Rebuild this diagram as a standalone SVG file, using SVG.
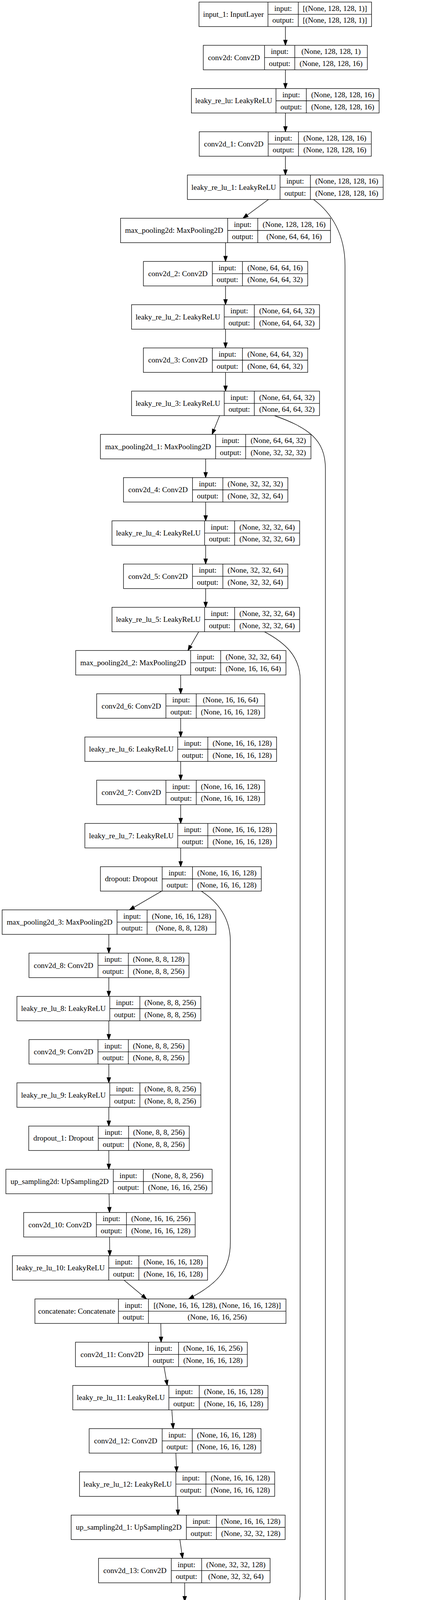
<svg xmlns="http://www.w3.org/2000/svg" width="1079" height="6824" viewBox="0 0 1079 6824">
<style>
.b{fill:#fff;stroke:#000;stroke-width:1.33}
.l{fill:none;stroke:#000;stroke-width:1.33}
.e{fill:none;stroke:#000;stroke-width:1.33;marker-end:url(#ah)}
text{font-family:"Liberation Serif","Times New Roman",serif;font-size:19.4px;text-anchor:middle;fill:#000}
</style>
<defs>
<marker id="ah" markerUnits="userSpaceOnUse" markerWidth="18" markerHeight="14" viewBox="-2 -7 18 14" refX="13.33" refY="0" orient="auto" overflow="visible">
<path d="M0,-4.67 L13.33,0 L0,4.67 Z" fill="#000" stroke="#000" stroke-width="1.33"/>
</marker>
</defs>
<rect x="0" y="0" width="1079" height="6824" fill="#fff"/>
<g id="edges">
<path class="e" d="M731.5 68 L731.5 116"/>
<path class="e" d="M731.5 178.67 L731.5 226.67"/>
<path class="e" d="M731.5 289.33 L731.5 337.33"/>
<path class="e" d="M731.5 400 L731.5 448"/>
<path class="e" d="M688 510.67 L622.8 558.67"/>
<path class="e" d="M578 621.33 L578 669.33"/>
<path class="e" d="M578 732 L578 780"/>
<path class="e" d="M578 842.67 L578 890.67"/>
<path class="e" d="M578 953.33 L578 1001.33"/>
<path class="e" d="M562.9 1064 L543.6 1112"/>
<path class="e" d="M527.1 1174.67 L527.1 1222.67"/>
<path class="e" d="M527.1 1285.33 L527.1 1333.33"/>
<path class="e" d="M527.1 1396 L527.1 1444"/>
<path class="e" d="M527.1 1506.67 L527.1 1554.67"/>
<path class="e" d="M509.2 1617.33 L481.7 1665.33"/>
<path class="e" d="M463.1 1728 L463.1 1776"/>
<path class="e" d="M463.1 1838.67 L463.1 1886.67"/>
<path class="e" d="M463.1 1949.33 L463.1 1997.33"/>
<path class="e" d="M463.1 2060 L463.1 2108"/>
<path class="e" d="M463.1 2170.67 L463.1 2218.67"/>
<path class="e" d="M414.3 2281.33 L331.7 2329.33"/>
<path class="e" d="M278.9 2392 L278.9 2440"/>
<path class="e" d="M278.9 2502.67 L278.9 2550.67"/>
<path class="e" d="M278.9 2613.33 L278.9 2661.33"/>
<path class="e" d="M278.9 2724 L278.9 2772"/>
<path class="e" d="M278.9 2834.67 L278.9 2882.67"/>
<path class="e" d="M278.9 2945.33 L278.9 2993.33"/>
<path class="e" d="M279.4 3056 L280.7 3104"/>
<path class="e" d="M280.7 3166.67 L281.4 3214.67"/>
<path class="e" d="M317.9 3277.33 L375.5 3325.33"/>
<path class="e" d="M412.2 3388 L412.9 3436"/>
<path class="e" d="M420.4 3498.67 L428.7 3546.67"/>
<path class="e" d="M440.4 3609.33 L443.8 3657.33"/>
<path class="e" d="M450.7 3720 L452.8 3768"/>
<path class="e" d="M454.9 3830.67 L456.2 3878.67"/>
<path class="e" d="M461 3941.33 L468 3989.33"/>
<path class="e" d="M473.4 4052 L473.4 4100"/>
<path class="e" d="M474.1 4162.67 L474.8 4210.67"/>
<path class="e" d="M475.5 4273.33 L475.5 4321.33"/>
<path class="e" d="M484.4 4384 L492.7 4432"/>
<path class="e" d="M505.8 4494.67 L509.2 4542.67"/>
<path class="e" d="M515.4 4605.33 L518.2 4653.33"/>
<path class="e" d="M521.6 4716 L522.3 4764"/>
<path class="e" d="M524.4 4826.67 L525 4874.67"/>
<path class="e" d="M525 4937.33 L525.7 4985.33"/>
<path class="e" d="M526.4 5048 L526.4 5096"/>
<path class="e" d="M526.8 5158.67 L526.8 5206.67"/>
<path class="e" d="M534 5269.33 L543 5317.33"/>
<path class="e" d="M552.6 5380 L556 5428"/>
<path class="e" d="M561.5 5490.67 L562.9 5538.67"/>
<path class="e" d="M565.6 5601.33 L566.3 5649.33"/>
<path class="e" d="M569.8 5712 L571.8 5760"/>
<path class="e" d="M579.4 5822.67 L582.9 5870.67"/>
<path class="e" d="M627.6 5933.33 L691.6 5981.33"/>
<path class="e" d="M732.9 6044 L732.9 6092"/>
<path class="e" d="M732.9 6154.67 L732.9 6202.67"/>
<path class="e" d="M732.9 6265.33 L732.9 6313.33"/>
<path class="e" d="M732.9 6376 L732.9 6424"/>
<path class="e" d="M732.9 6486.67 L732.9 6534.67"/>
<path class="e" d="M732.9 6597.33 L732.9 6645.33"/>
<path class="e" d="M732.9 6708 L732.9 6756"/>
<path class="e" d="M803.7 510.67 C850 545 884.3 600 884.3 680 L884.3 5840 C884.3 5905 852 5948 799.6 5981.33"/>
<path class="e" d="M703.3 1064 C790 1095 834 1125 834 1200 L834 4930 C834 5010 790 5050 664 5096"/>
<path class="e" d="M677.8 1617.33 C730 1645 769.3 1680 769.3 1740 L769.3 4075 C769.3 4140 730 4175 615.9 4210.67"/>
<path class="e" d="M516 2281.33 C560 2310 590.4 2350 590.4 2410 L590.4 3180 C590.4 3250 560 3285 483.5 3325.33"/>
</g>
<g id="input_1" transform="translate(0,5.33)"><rect class="b" x="510" width="442.3" height="62.67"/><path class="l" d="M686.7 0V62.67M764.5 0V62.67M686.7 31.33H952.3"/><text x="598.35" y="37.6">input_1: InputLayer</text><text x="725.6" y="22.3">input:</text><text x="725.6" y="53">output:</text><text x="858.4" y="22.3">[(None, 128, 128, 1)]</text><text x="858.4" y="53">[(None, 128, 128, 1)]</text></g>
<g id="conv2d" transform="translate(0,116)"><rect class="b" x="521" width="420.5" height="62.67"/><path class="l" d="M678 0V62.67M755.5 0V62.67M678 31.33H941.5"/><text x="599.5" y="37.6">conv2d: Conv2D</text><text x="716.75" y="22.3">input:</text><text x="716.75" y="53">output:</text><text x="848.5" y="22.3">(None, 128, 128, 1)</text><text x="848.5" y="53">(None, 128, 128, 16)</text></g>
<g id="leaky_re_lu" transform="translate(0,226.67)"><rect class="b" x="490.6" width="481" height="62.67"/><path class="l" d="M707.4 0V62.67M785.1 0V62.67M707.4 31.33H971.6"/><text x="599" y="37.6">leaky_re_lu: LeakyReLU</text><text x="746.25" y="22.3">input:</text><text x="746.25" y="53">output:</text><text x="878.35" y="22.3">(None, 128, 128, 16)</text><text x="878.35" y="53">(None, 128, 128, 16)</text></g>
<g id="conv2d_1" transform="translate(0,337.33)"><rect class="b" x="510.6" width="441" height="62.67"/><path class="l" d="M687.4 0V62.67M765 0V62.67M687.4 31.33H951.6"/><text x="599" y="37.6">conv2d_1: Conv2D</text><text x="726.2" y="22.3">input:</text><text x="726.2" y="53">output:</text><text x="858.3" y="22.3">(None, 128, 128, 16)</text><text x="858.3" y="53">(None, 128, 128, 16)</text></g>
<g id="leaky_re_lu_1" transform="translate(0,448)"><rect class="b" x="480.3" width="501.7" height="62.67"/><path class="l" d="M717.7 0V62.67M795.5 0V62.67M717.7 31.33H982"/><text x="599" y="37.6">leaky_re_lu_1: LeakyReLU</text><text x="756.6" y="22.3">input:</text><text x="756.6" y="53">output:</text><text x="888.75" y="22.3">(None, 128, 128, 16)</text><text x="888.75" y="53">(None, 128, 128, 16)</text></g>
<g id="max_pooling2d" transform="translate(0,558.67)"><rect class="b" x="309" width="538" height="62.67"/><path class="l" d="M583.5 0V62.67M660.6 0V62.67M583.5 31.33H847"/><text x="446.25" y="37.6">max_pooling2d: MaxPooling2D</text><text x="622.05" y="22.3">input:</text><text x="622.05" y="53">output:</text><text x="753.8" y="22.3">(None, 128, 128, 16)</text><text x="753.8" y="53">(None, 64, 64, 16)</text></g>
<g id="conv2d_2" transform="translate(0,669.33)"><rect class="b" x="367.5" width="421.1" height="62.67"/><path class="l" d="M544.3 0V62.67M621.4 0V62.67M544.3 31.33H788.6"/><text x="455.9" y="37.6">conv2d_2: Conv2D</text><text x="582.85" y="22.3">input:</text><text x="582.85" y="53">output:</text><text x="705" y="22.3">(None, 64, 64, 16)</text><text x="705" y="53">(None, 64, 64, 32)</text></g>
<g id="leaky_re_lu_2" transform="translate(0,780)"><rect class="b" x="337.2" width="481.7" height="62.67"/><path class="l" d="M574.6 0V62.67M651.7 0V62.67M574.6 31.33H818.9"/><text x="455.9" y="37.6">leaky_re_lu_2: LeakyReLU</text><text x="613.15" y="22.3">input:</text><text x="613.15" y="53">output:</text><text x="735.3" y="22.3">(None, 64, 64, 32)</text><text x="735.3" y="53">(None, 64, 64, 32)</text></g>
<g id="conv2d_3" transform="translate(0,890.67)"><rect class="b" x="367.5" width="421.1" height="62.67"/><path class="l" d="M544.3 0V62.67M621.4 0V62.67M544.3 31.33H788.6"/><text x="455.9" y="37.6">conv2d_3: Conv2D</text><text x="582.85" y="22.3">input:</text><text x="582.85" y="53">output:</text><text x="705" y="22.3">(None, 64, 64, 32)</text><text x="705" y="53">(None, 64, 64, 32)</text></g>
<g id="leaky_re_lu_3" transform="translate(0,1001.33)"><rect class="b" x="337.2" width="481.7" height="62.67"/><path class="l" d="M574.6 0V62.67M651.7 0V62.67M574.6 31.33H818.9"/><text x="455.9" y="37.6">leaky_re_lu_3: LeakyReLU</text><text x="613.15" y="22.3">input:</text><text x="613.15" y="53">output:</text><text x="735.3" y="22.3">(None, 64, 64, 32)</text><text x="735.3" y="53">(None, 64, 64, 32)</text></g>
<g id="max_pooling2d_1" transform="translate(0,1112)"><rect class="b" x="257.4" width="539.5" height="62.67"/><path class="l" d="M552.6 0V62.67M629.6 0V62.67M552.6 31.33H796.9"/><text x="405" y="37.6">max_pooling2d_1: MaxPooling2D</text><text x="591.1" y="22.3">input:</text><text x="591.1" y="53">output:</text><text x="713.25" y="22.3">(None, 64, 64, 32)</text><text x="713.25" y="53">(None, 32, 32, 32)</text></g>
<g id="conv2d_4" transform="translate(0,1222.67)"><rect class="b" x="316.5" width="421.2" height="62.67"/><path class="l" d="M493.4 0V62.67M571.2 0V62.67M493.4 31.33H737.7"/><text x="404.95" y="37.6">conv2d_4: Conv2D</text><text x="532.3" y="22.3">input:</text><text x="532.3" y="53">output:</text><text x="654.45" y="22.3">(None, 32, 32, 32)</text><text x="654.45" y="53">(None, 32, 32, 64)</text></g>
<g id="leaky_re_lu_4" transform="translate(0,1333.33)"><rect class="b" x="287" width="481" height="62.67"/><path class="l" d="M524.4 0V62.67M601.4 0V62.67M524.4 31.33H768"/><text x="405.7" y="37.6">leaky_re_lu_4: LeakyReLU</text><text x="562.9" y="22.3">input:</text><text x="562.9" y="53">output:</text><text x="684.7" y="22.3">(None, 32, 32, 64)</text><text x="684.7" y="53">(None, 32, 32, 64)</text></g>
<g id="conv2d_5" transform="translate(0,1444)"><rect class="b" x="316.5" width="421.2" height="62.67"/><path class="l" d="M493.4 0V62.67M571.2 0V62.67M493.4 31.33H737.7"/><text x="404.95" y="37.6">conv2d_5: Conv2D</text><text x="532.3" y="22.3">input:</text><text x="532.3" y="53">output:</text><text x="654.45" y="22.3">(None, 32, 32, 64)</text><text x="654.45" y="53">(None, 32, 32, 64)</text></g>
<g id="leaky_re_lu_5" transform="translate(0,1554.67)"><rect class="b" x="287" width="481" height="62.67"/><path class="l" d="M524.4 0V62.67M601.4 0V62.67M524.4 31.33H768"/><text x="405.7" y="37.6">leaky_re_lu_5: LeakyReLU</text><text x="562.9" y="22.3">input:</text><text x="562.9" y="53">output:</text><text x="684.7" y="22.3">(None, 32, 32, 64)</text><text x="684.7" y="53">(None, 32, 32, 64)</text></g>
<g id="max_pooling2d_2" transform="translate(0,1665.33)"><rect class="b" x="194" width="538.9" height="62.67"/><path class="l" d="M488.6 0V62.67M565.6 0V62.67M488.6 31.33H732.9"/><text x="341.3" y="37.6">max_pooling2d_2: MaxPooling2D</text><text x="527.1" y="22.3">input:</text><text x="527.1" y="53">output:</text><text x="649.25" y="22.3">(None, 32, 32, 64)</text><text x="649.25" y="53">(None, 16, 16, 64)</text></g>
<g id="conv2d_6" transform="translate(0,1776)"><rect class="b" x="247.7" width="430.8" height="62.67"/><path class="l" d="M425.3 0V62.67M503 0V62.67M425.3 31.33H678.5"/><text x="336.5" y="37.6">conv2d_6: Conv2D</text><text x="464.15" y="22.3">input:</text><text x="464.15" y="53">output:</text><text x="590.75" y="22.3">(None, 16, 16, 64)</text><text x="590.75" y="53">(None, 16, 16, 128)</text></g>
<g id="leaky_re_lu_6" transform="translate(0,1886.67)"><rect class="b" x="217.5" width="491.3" height="62.67"/><path class="l" d="M455.5 0V62.67M532.6 0V62.67M455.5 31.33H708.8"/><text x="336.5" y="37.6">leaky_re_lu_6: LeakyReLU</text><text x="494.05" y="22.3">input:</text><text x="494.05" y="53">output:</text><text x="620.7" y="22.3">(None, 16, 16, 128)</text><text x="620.7" y="53">(None, 16, 16, 128)</text></g>
<g id="conv2d_7" transform="translate(0,1997.33)"><rect class="b" x="247.7" width="430.8" height="62.67"/><path class="l" d="M425.3 0V62.67M503 0V62.67M425.3 31.33H678.5"/><text x="336.5" y="37.6">conv2d_7: Conv2D</text><text x="464.15" y="22.3">input:</text><text x="464.15" y="53">output:</text><text x="590.75" y="22.3">(None, 16, 16, 128)</text><text x="590.75" y="53">(None, 16, 16, 128)</text></g>
<g id="leaky_re_lu_7" transform="translate(0,2108)"><rect class="b" x="217.5" width="491.3" height="62.67"/><path class="l" d="M455.5 0V62.67M532.6 0V62.67M455.5 31.33H708.8"/><text x="336.5" y="37.6">leaky_re_lu_7: LeakyReLU</text><text x="494.05" y="22.3">input:</text><text x="494.05" y="53">output:</text><text x="620.7" y="22.3">(None, 16, 16, 128)</text><text x="620.7" y="53">(None, 16, 16, 128)</text></g>
<g id="dropout" transform="translate(0,2218.67)"><rect class="b" x="257.4" width="412.2" height="62.67"/><path class="l" d="M415.6 0V62.67M493.4 0V62.67M415.6 31.33H669.6"/><text x="336.5" y="37.6">dropout: Dropout</text><text x="454.5" y="22.3">input:</text><text x="454.5" y="53">output:</text><text x="581.5" y="22.3">(None, 16, 16, 128)</text><text x="581.5" y="53">(None, 16, 16, 128)</text></g>
<g id="max_pooling2d_3" transform="translate(0,2329.33)"><rect class="b" x="5.5" width="547.8" height="62.67"/><path class="l" d="M300 0V62.67M377.1 0V62.67M300 31.33H553.3"/><text x="152.75" y="37.6">max_pooling2d_3: MaxPooling2D</text><text x="338.55" y="22.3">input:</text><text x="338.55" y="53">output:</text><text x="465.2" y="22.3">(None, 16, 16, 128)</text><text x="465.2" y="53">(None, 8, 8, 128)</text></g>
<g id="conv2d_8" transform="translate(0,2440)"><rect class="b" x="74.3" width="410.1" height="62.67"/><path class="l" d="M251.2 0V62.67M328.9 0V62.67M251.2 31.33H484.4"/><text x="162.75" y="37.6">conv2d_8: Conv2D</text><text x="290.05" y="22.3">input:</text><text x="290.05" y="53">output:</text><text x="406.65" y="22.3">(None, 8, 8, 128)</text><text x="406.65" y="53">(None, 8, 8, 256)</text></g>
<g id="leaky_re_lu_8" transform="translate(0,2550.67)"><rect class="b" x="43.4" width="471.3" height="62.67"/><path class="l" d="M281.4 0V62.67M358.5 0V62.67M281.4 31.33H514.7"/><text x="162.4" y="37.6">leaky_re_lu_8: LeakyReLU</text><text x="319.95" y="22.3">input:</text><text x="319.95" y="53">output:</text><text x="436.6" y="22.3">(None, 8, 8, 256)</text><text x="436.6" y="53">(None, 8, 8, 256)</text></g>
<g id="conv2d_9" transform="translate(0,2661.33)"><rect class="b" x="74.3" width="410.1" height="62.67"/><path class="l" d="M251.2 0V62.67M328.9 0V62.67M251.2 31.33H484.4"/><text x="162.75" y="37.6">conv2d_9: Conv2D</text><text x="290.05" y="22.3">input:</text><text x="290.05" y="53">output:</text><text x="406.65" y="22.3">(None, 8, 8, 256)</text><text x="406.65" y="53">(None, 8, 8, 256)</text></g>
<g id="leaky_re_lu_9" transform="translate(0,2772)"><rect class="b" x="43.4" width="471.3" height="62.67"/><path class="l" d="M281.4 0V62.67M358.5 0V62.67M281.4 31.33H514.7"/><text x="162.4" y="37.6">leaky_re_lu_9: LeakyReLU</text><text x="319.95" y="22.3">input:</text><text x="319.95" y="53">output:</text><text x="436.6" y="22.3">(None, 8, 8, 256)</text><text x="436.6" y="53">(None, 8, 8, 256)</text></g>
<g id="dropout_1" transform="translate(0,2882.67)"><rect class="b" x="73.6" width="411.5" height="62.67"/><path class="l" d="M251.9 0V62.67M329.6 0V62.67M251.9 31.33H485.1"/><text x="162.75" y="37.6">dropout_1: Dropout</text><text x="290.75" y="22.3">input:</text><text x="290.75" y="53">output:</text><text x="407.35" y="22.3">(None, 8, 8, 256)</text><text x="407.35" y="53">(None, 8, 8, 256)</text></g>
<g id="up_sampling2d" transform="translate(0,2993.33)"><rect class="b" x="15.1" width="528.5" height="62.67"/><path class="l" d="M290.4 0V62.67M367.5 0V62.67M290.4 31.33H543.6"/><text x="152.75" y="37.6">up_sampling2d: UpSampling2D</text><text x="328.95" y="22.3">input:</text><text x="328.95" y="53">output:</text><text x="455.55" y="22.3">(None, 8, 8, 256)</text><text x="455.55" y="53">(None, 16, 16, 256)</text></g>
<g id="conv2d_10" transform="translate(0,3104)"><rect class="b" x="60.6" width="439.7" height="62.67"/><path class="l" d="M247 0V62.67M324.1 0V62.67M247 31.33H500.3"/><text x="153.8" y="37.6">conv2d_10: Conv2D</text><text x="285.55" y="22.3">input:</text><text x="285.55" y="53">output:</text><text x="412.2" y="22.3">(None, 16, 16, 256)</text><text x="412.2" y="53">(None, 16, 16, 128)</text></g>
<g id="leaky_re_lu_10" transform="translate(0,3214.67)"><rect class="b" x="31.7" width="500.2" height="62.67"/><path class="l" d="M278.7 0V62.67M355.8 0V62.67M278.7 31.33H531.9"/><text x="155.2" y="37.6">leaky_re_lu_10: LeakyReLU</text><text x="317.25" y="22.3">input:</text><text x="317.25" y="53">output:</text><text x="443.85" y="22.3">(None, 16, 16, 128)</text><text x="443.85" y="53">(None, 16, 16, 128)</text></g>
<g id="concatenate" transform="translate(0,3325.33)"><rect class="b" x="89.5" width="643.4" height="62.67"/><path class="l" d="M303.5 0V62.67M380.5 0V62.67M303.5 31.33H732.9"/><text x="196.5" y="37.6">concatenate: Concatenate</text><text x="342" y="22.3">input:</text><text x="342" y="53">output:</text><text x="556.7" y="22.3">[(None, 16, 16, 128), (None, 16, 16, 128)]</text><text x="556.7" y="53">(None, 16, 16, 256)</text></g>
<g id="conv2d_11" transform="translate(0,3436)"><rect class="b" x="193.4" width="440.4" height="62.67"/><path class="l" d="M380.5 0V62.67M457.6 0V62.67M380.5 31.33H633.8"/><text x="286.95" y="37.6">conv2d_11: Conv2D</text><text x="419.05" y="22.3">input:</text><text x="419.05" y="53">output:</text><text x="545.7" y="22.3">(None, 16, 16, 256)</text><text x="545.7" y="53">(None, 16, 16, 128)</text></g>
<g id="leaky_re_lu_11" transform="translate(0,3546.67)"><rect class="b" x="186.5" width="500.3" height="62.67"/><path class="l" d="M432.8 0V62.67M510.6 0V62.67M432.8 31.33H686.8"/><text x="309.65" y="37.6">leaky_re_lu_11: LeakyReLU</text><text x="471.7" y="22.3">input:</text><text x="471.7" y="53">output:</text><text x="598.7" y="22.3">(None, 16, 16, 128)</text><text x="598.7" y="53">(None, 16, 16, 128)</text></g>
<g id="conv2d_12" transform="translate(0,3657.33)"><rect class="b" x="228.5" width="440.4" height="62.67"/><path class="l" d="M415.6 0V62.67M492.7 0V62.67M415.6 31.33H668.9"/><text x="322.05" y="37.6">conv2d_12: Conv2D</text><text x="454.15" y="22.3">input:</text><text x="454.15" y="53">output:</text><text x="580.8" y="22.3">(None, 16, 16, 128)</text><text x="580.8" y="53">(None, 16, 16, 128)</text></g>
<g id="leaky_re_lu_12" transform="translate(0,3768)"><rect class="b" x="203.7" width="500.3" height="62.67"/><path class="l" d="M450.7 0V62.67M527.8 0V62.67M450.7 31.33H704"/><text x="327.2" y="37.6">leaky_re_lu_12: LeakyReLU</text><text x="489.25" y="22.3">input:</text><text x="489.25" y="53">output:</text><text x="615.9" y="22.3">(None, 16, 16, 128)</text><text x="615.9" y="53">(None, 16, 16, 128)</text></g>
<g id="up_sampling2d_1" transform="translate(0,3878.67)"><rect class="b" x="182.4" width="548.4" height="62.67"/><path class="l" d="M477.6 0V62.67M554.6 0V62.67M477.6 31.33H730.8"/><text x="330" y="37.6">up_sampling2d_1: UpSampling2D</text><text x="516.1" y="22.3">input:</text><text x="516.1" y="53">output:</text><text x="642.7" y="22.3">(None, 16, 16, 128)</text><text x="642.7" y="53">(None, 32, 32, 128)</text></g>
<g id="conv2d_13" transform="translate(0,3989.33)"><rect class="b" x="252.5" width="439.8" height="62.67"/><path class="l" d="M439 0V62.67M516.8 0V62.67M439 31.33H692.3"/><text x="345.75" y="37.6">conv2d_13: Conv2D</text><text x="477.9" y="22.3">input:</text><text x="477.9" y="53">output:</text><text x="604.55" y="22.3">(None, 32, 32, 128)</text><text x="604.55" y="53">(None, 32, 32, 64)</text></g>
<g id="leaky_re_lu_13" transform="translate(0,4100)"><rect class="b" x="228.5" width="490.6" height="62.67"/><path class="l" d="M475.5 0V62.67M552.6 0V62.67M475.5 31.33H719.1"/><text x="352" y="37.6">leaky_re_lu_13: LeakyReLU</text><text x="514.05" y="22.3">input:</text><text x="514.05" y="53">output:</text><text x="635.85" y="22.3">(None, 32, 32, 64)</text><text x="635.85" y="53">(None, 32, 32, 64)</text></g>
<g id="concatenate_1" transform="translate(0,4210.67)"><rect class="b" x="153.5" width="643.4" height="62.67"/><path class="l" d="M387.4 0V62.67M465.2 0V62.67M387.4 31.33H796.9"/><text x="270.45" y="37.6">concatenate_1: Concatenate</text><text x="426.3" y="22.3">input:</text><text x="426.3" y="53">output:</text><text x="631.05" y="22.3">[(None, 32, 32, 64), (None, 32, 32, 64)]</text><text x="631.05" y="53">(None, 32, 32, 128)</text></g>
<g id="conv2d_14" transform="translate(0,4321.33)"><rect class="b" x="256.7" width="439.7" height="62.67"/><path class="l" d="M443.2 0V62.67M520.9 0V62.67M443.2 31.33H696.4"/><text x="349.95" y="37.6">conv2d_14: Conv2D</text><text x="482.05" y="22.3">input:</text><text x="482.05" y="53">output:</text><text x="608.65" y="22.3">(None, 32, 32, 128)</text><text x="608.65" y="53">(None, 32, 32, 64)</text></g>
<g id="leaky_re_lu_14" transform="translate(0,4432)"><rect class="b" x="256.7" width="490.6" height="62.67"/><path class="l" d="M503 0V62.67M580.1 0V62.67M503 31.33H747.3"/><text x="379.85" y="37.6">leaky_re_lu_14: LeakyReLU</text><text x="541.55" y="22.3">input:</text><text x="541.55" y="53">output:</text><text x="663.7" y="22.3">(None, 32, 32, 64)</text><text x="663.7" y="53">(None, 32, 32, 64)</text></g>
<g id="conv2d_15" transform="translate(0,4542.67)"><rect class="b" x="298.7" width="430" height="62.67"/><path class="l" d="M485.8 0V62.67M562.9 0V62.67M485.8 31.33H728.7"/><text x="392.25" y="37.6">conv2d_15: Conv2D</text><text x="524.35" y="22.3">input:</text><text x="524.35" y="53">output:</text><text x="645.8" y="22.3">(None, 32, 32, 64)</text><text x="645.8" y="53">(None, 32, 32, 64)</text></g>
<g id="leaky_re_lu_15" transform="translate(0,4653.33)"><rect class="b" x="275.3" width="490.6" height="62.67"/><path class="l" d="M521.6 0V62.67M599.4 0V62.67M521.6 31.33H765.9"/><text x="398.45" y="37.6">leaky_re_lu_15: LeakyReLU</text><text x="560.5" y="22.3">input:</text><text x="560.5" y="53">output:</text><text x="682.65" y="22.3">(None, 32, 32, 64)</text><text x="682.65" y="53">(None, 32, 32, 64)</text></g>
<g id="up_sampling2d_2" transform="translate(0,4764)"><rect class="b" x="253.9" width="538.8" height="62.67"/><path class="l" d="M548.4 0V62.67M625.5 0V62.67M548.4 31.33H792.7"/><text x="401.15" y="37.6">up_sampling2d_2: UpSampling2D</text><text x="586.95" y="22.3">input:</text><text x="586.95" y="53">output:</text><text x="709.1" y="22.3">(None, 32, 32, 64)</text><text x="709.1" y="53">(None, 64, 64, 64)</text></g>
<g id="conv2d_16" transform="translate(0,4874.67)"><rect class="b" x="309" width="430.7" height="62.67"/><path class="l" d="M495.5 0V62.67M573.2 0V62.67M495.5 31.33H739.7"/><text x="402.25" y="37.6">conv2d_16: Conv2D</text><text x="534.35" y="22.3">input:</text><text x="534.35" y="53">output:</text><text x="656.45" y="22.3">(None, 64, 64, 64)</text><text x="656.45" y="53">(None, 64, 64, 32)</text></g>
<g id="leaky_re_lu_16" transform="translate(0,4985.33)"><rect class="b" x="280.8" width="489.9" height="62.67"/><path class="l" d="M527.1 0V62.67M604.2 0V62.67M527.1 31.33H770.7"/><text x="403.95" y="37.6">leaky_re_lu_16: LeakyReLU</text><text x="565.65" y="22.3">input:</text><text x="565.65" y="53">output:</text><text x="687.45" y="22.3">(None, 64, 64, 32)</text><text x="687.45" y="53">(None, 64, 64, 32)</text></g>
<g id="concatenate_2" transform="translate(0,5096)"><rect class="b" x="204.4" width="642.7" height="62.67"/><path class="l" d="M438.3 0V62.67M515.4 0V62.67M438.3 31.33H847.1"/><text x="321.35" y="37.6">concatenate_2: Concatenate</text><text x="476.85" y="22.3">input:</text><text x="476.85" y="53">output:</text><text x="681.25" y="22.3">[(None, 64, 64, 32), (None, 64, 64, 32)]</text><text x="681.25" y="53">(None, 64, 64, 64)</text></g>
<g id="conv2d_17" transform="translate(0,5206.67)"><rect class="b" x="311.7" width="431.5" height="62.67"/><path class="l" d="M498.9 0V62.67M576 0V62.67M498.9 31.33H743.2"/><text x="405.3" y="37.6">conv2d_17: Conv2D</text><text x="537.45" y="22.3">input:</text><text x="537.45" y="53">output:</text><text x="659.6" y="22.3">(None, 64, 64, 64)</text><text x="659.6" y="53">(None, 64, 64, 32)</text></g>
<g id="leaky_re_lu_17" transform="translate(0,5317.33)"><rect class="b" x="303.5" width="490.6" height="62.67"/><path class="l" d="M550.5 0V62.67M627.6 0V62.67M550.5 31.33H794.1"/><text x="427" y="37.6">leaky_re_lu_17: LeakyReLU</text><text x="589.05" y="22.3">input:</text><text x="589.05" y="53">output:</text><text x="710.85" y="22.3">(None, 64, 64, 32)</text><text x="710.85" y="53">(None, 64, 64, 32)</text></g>
<g id="conv2d_18" transform="translate(0,5428)"><rect class="b" x="344.1" width="430.7" height="62.67"/><path class="l" d="M530.6 0V62.67M608.3 0V62.67M530.6 31.33H774.8"/><text x="437.35" y="37.6">conv2d_18: Conv2D</text><text x="569.45" y="22.3">input:</text><text x="569.45" y="53">output:</text><text x="691.55" y="22.3">(None, 64, 64, 32)</text><text x="691.55" y="53">(None, 64, 64, 32)</text></g>
<g id="leaky_re_lu_18" transform="translate(0,5538.67)"><rect class="b" x="319.3" width="491.3" height="62.67"/><path class="l" d="M565.6 0V62.67M643.4 0V62.67M565.6 31.33H810.6"/><text x="442.45" y="37.6">leaky_re_lu_18: LeakyReLU</text><text x="604.5" y="22.3">input:</text><text x="604.5" y="53">output:</text><text x="727" y="22.3">(None, 64, 64, 32)</text><text x="727" y="53">(None, 64, 64, 32)</text></g>
<g id="up_sampling2d_3" transform="translate(0,5649.33)"><rect class="b" x="287.6" width="558.8" height="62.67"/><path class="l" d="M582.9 0V62.67M659.9 0V62.67M582.9 31.33H846.4"/><text x="435.25" y="37.6">up_sampling2d_3: UpSampling2D</text><text x="621.4" y="22.3">input:</text><text x="621.4" y="53">output:</text><text x="753.15" y="22.3">(None, 64, 64, 32)</text><text x="753.15" y="53">(None, 128, 128, 32)</text></g>
<g id="conv2d_19" transform="translate(0,5760)"><rect class="b" x="349.6" width="450.7" height="62.67"/><path class="l" d="M536 0V62.67M613.8 0V62.67M536 31.33H800.3"/><text x="442.8" y="37.6">conv2d_19: Conv2D</text><text x="574.9" y="22.3">input:</text><text x="574.9" y="53">output:</text><text x="707.05" y="22.3">(None, 128, 128, 32)</text><text x="707.05" y="53">(None, 128, 128, 16)</text></g>
<g id="leaky_re_lu_19" transform="translate(0,5870.67)"><rect class="b" x="331.7" width="510.6" height="62.67"/><path class="l" d="M578.7 0V62.67M656.5 0V62.67M578.7 31.33H842.3"/><text x="455.2" y="37.6">leaky_re_lu_19: LeakyReLU</text><text x="617.6" y="22.3">input:</text><text x="617.6" y="53">output:</text><text x="749.4" y="22.3">(None, 128, 128, 16)</text><text x="749.4" y="53">(None, 128, 128, 16)</text></g>
<g id="concatenate_3" transform="translate(0,5981.33)"><rect class="b" x="390.9" width="683.3" height="62.67"/><path class="l" d="M624.8 0V62.67M701.9 0V62.67M624.8 31.33H1074.2"/><text x="507.85" y="37.6">concatenate_3: Concatenate</text><text x="663.35" y="22.3">input:</text><text x="663.35" y="53">output:</text><text x="888.05" y="22.3">[(None, 128, 128, 16), (None, 128, 128, 16)]</text><text x="888.05" y="53">(None, 128, 128, 32)</text></g>
<g id="conv2d_20" transform="translate(0,6092)"><rect class="b" x="507.2" width="450.7" height="62.67"/><path class="l" d="M693.6 0V62.67M771.4 0V62.67M693.6 31.33H957.9"/><text x="600.4" y="37.6">conv2d_20: Conv2D</text><text x="732.5" y="22.3">input:</text><text x="732.5" y="53">output:</text><text x="864.65" y="22.3">(None, 128, 128, 32)</text><text x="864.65" y="53">(None, 128, 128, 16)</text></g>
<g id="leaky_re_lu_20" transform="translate(0,6202.67)"><rect class="b" x="476.9" width="510.6" height="62.67"/><path class="l" d="M723.9 0V62.67M801 0V62.67M723.9 31.33H987.5"/><text x="600.4" y="37.6">leaky_re_lu_20: LeakyReLU</text><text x="762.45" y="22.3">input:</text><text x="762.45" y="53">output:</text><text x="894.25" y="22.3">(None, 128, 128, 16)</text><text x="894.25" y="53">(None, 128, 128, 16)</text></g>
<g id="conv2d_21" transform="translate(0,6313.33)"><rect class="b" x="507.2" width="450.7" height="62.67"/><path class="l" d="M693.6 0V62.67M771.4 0V62.67M693.6 31.33H957.9"/><text x="600.4" y="37.6">conv2d_21: Conv2D</text><text x="732.5" y="22.3">input:</text><text x="732.5" y="53">output:</text><text x="864.65" y="22.3">(None, 128, 128, 16)</text><text x="864.65" y="53">(None, 128, 128, 16)</text></g>
<g id="leaky_re_lu_21" transform="translate(0,6424)"><rect class="b" x="476.9" width="510.6" height="62.67"/><path class="l" d="M723.9 0V62.67M801 0V62.67M723.9 31.33H987.5"/><text x="600.4" y="37.6">leaky_re_lu_21: LeakyReLU</text><text x="762.45" y="22.3">input:</text><text x="762.45" y="53">output:</text><text x="894.25" y="22.3">(None, 128, 128, 16)</text><text x="894.25" y="53">(None, 128, 128, 16)</text></g>
<g id="conv2d_22" transform="translate(0,6534.67)"><rect class="b" x="507.2" width="450.7" height="62.67"/><path class="l" d="M693.6 0V62.67M771.4 0V62.67M693.6 31.33H957.9"/><text x="600.4" y="37.6">conv2d_22: Conv2D</text><text x="732.5" y="22.3">input:</text><text x="732.5" y="53">output:</text><text x="864.65" y="22.3">(None, 128, 128, 16)</text><text x="864.65" y="53">(None, 128, 128, 2)</text></g>
<g id="leaky_re_lu_22" transform="translate(0,6645.33)"><rect class="b" x="482.4" width="499.6" height="62.67"/><path class="l" d="M728.7 0V62.67M806.5 0V62.67M728.7 31.33H982"/><text x="605.55" y="37.6">leaky_re_lu_22: LeakyReLU</text><text x="767.6" y="22.3">input:</text><text x="767.6" y="53">output:</text><text x="894.25" y="22.3">(None, 128, 128, 2)</text><text x="894.25" y="53">(None, 128, 128, 2)</text></g>
<g id="conv2d_23" transform="translate(0,6756)"><rect class="b" x="512.7" width="439.7" height="62.67"/><path class="l" d="M699.1 0V62.67M776.2 0V62.67M699.1 31.33H952.4"/><text x="605.9" y="37.6">conv2d_23: Conv2D</text><text x="737.65" y="22.3">input:</text><text x="737.65" y="53">output:</text><text x="864.3" y="22.3">(None, 128, 128, 2)</text><text x="864.3" y="53">(None, 128, 128, 1)</text></g>
</svg>
